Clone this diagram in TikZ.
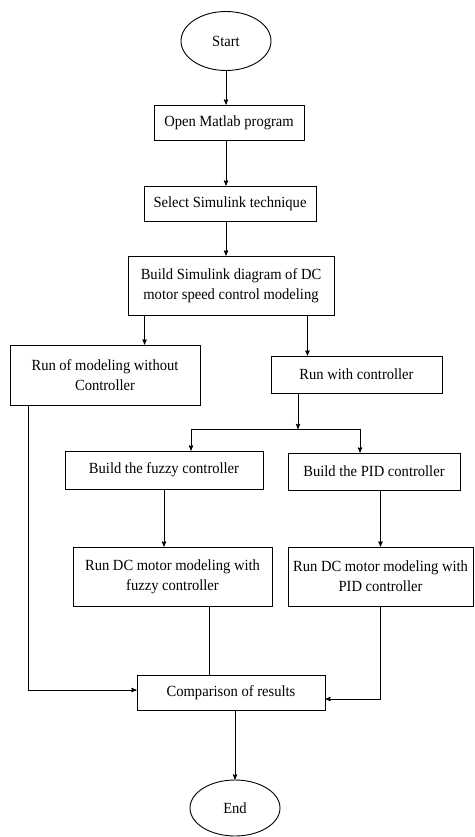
\documentclass[tikz,border=0pt]{standalone}
\usepackage{fontspec}
\setmainfont{Liberation Serif}[FakeStretch=0.94]
\usetikzlibrary{arrows}
\usetikzlibrary{shapes.geometric}
\tikzset{>=stealth'}
\tikzset{
    process/.style={draw, rectangle, align=center, inner sep=0pt, line width=0.9pt},
    terminal/.style={draw, ellipse, inner sep=0pt, line width=0.9pt},
    flow/.style={line width=0.9pt}
}

\begin{document}
\begin{tikzpicture}[x=1pt, y=-1pt, font=\fontsize{15.5}{20}\selectfont]
        \useasboundingbox (0, 0) rectangle (474, 837);
        \node[terminal, minimum width=90pt, minimum height=59pt] (start) at (226, 41) {Start};
        \node[process, minimum width=150pt, minimum height=35pt] (open) at (229, 122.5) {Open Matlab program};
        \node[process, minimum width=172pt, minimum height=35pt] (select) at (230, 203.5) {Select Simulink technique};
        \node[process, minimum width=206pt, minimum height=59pt] (build) at (231, 285.5) {Build Simulink diagram of DC\\motor speed control modeling};
        \node[process, minimum width=190pt, minimum height=60pt] (nocontrol) at (105, 375) {Run of modeling without\\Controller};
        \node[process, minimum width=171pt, minimum height=37pt] (runwith) at (356.5, 374.5) {Run with controller};
        \node[process, minimum width=198pt, minimum height=38pt] (fuzzy) at (164, 470) {Build the fuzzy controller};
        \node[process, minimum width=172pt, minimum height=37pt] (pid) at (374, 471.5) {Build the PID controller};
        \node[process, minimum width=199pt, minimum height=59pt] (runfuzzy) at (172.5, 576.5) {Run DC motor modeling with\\fuzzy controller};
        \node[process, minimum width=185pt, minimum height=59pt] (runpid) at (380.5, 576.5) {Run DC motor modeling with\\PID controller};
        \node[process, minimum width=188pt, minimum height=35pt] (compare) at (231, 692.5) {Comparison of results};
        \node[terminal, minimum width=90pt, minimum height=56pt] (end) at (235, 808) {End};
        \coordinate (split) at (298, 429);
        \coordinate (fuzzyin) at (191, 429);
        \coordinate (pidin) at (360, 429);

        \draw[flow, ->] (start) -- (start |- open.north);
        \draw[flow, ->] (open.south -| start) -- (start |- select.north);
        \draw[flow, ->] (select.south -| start) -- (start |- build.north);
        \draw[flow, ->] ([xshift=17pt]build.south west) -- ([xshift=17pt]build.south west |- nocontrol.north);
        \draw[flow, ->] ([xshift=-27pt]build.south east) -- ([xshift=-27pt]build.south east |- runwith.north);
        \draw[flow, ->] (runwith.south -| split) -- (split);
        \draw[flow] (fuzzyin) -- (pidin);
        \draw[flow, ->] (fuzzyin) -- (fuzzyin |- fuzzy.north);
        \draw[flow, ->] (pidin) -- (pidin |- pid.north);
        \draw[flow, ->] (fuzzy.south) -- (fuzzy.south |- runfuzzy.north);
        \draw[flow, ->] (runpid |- pid.south) -- (runpid.north);
        \draw[flow] ([xshift=-63pt]runfuzzy.south east) -- ([xshift=-63pt]runfuzzy.south east |- compare.north);
        \draw[flow, ->] ([xshift=19pt]nocontrol.south west) |- ([yshift=2.5pt]compare.west);
        \draw[flow, ->] (runpid.south) |- ([yshift=-6.5pt]compare.east);
        \draw[flow, ->] (end |- compare.south) -- (end.north);
\end{tikzpicture}
\end{document}
